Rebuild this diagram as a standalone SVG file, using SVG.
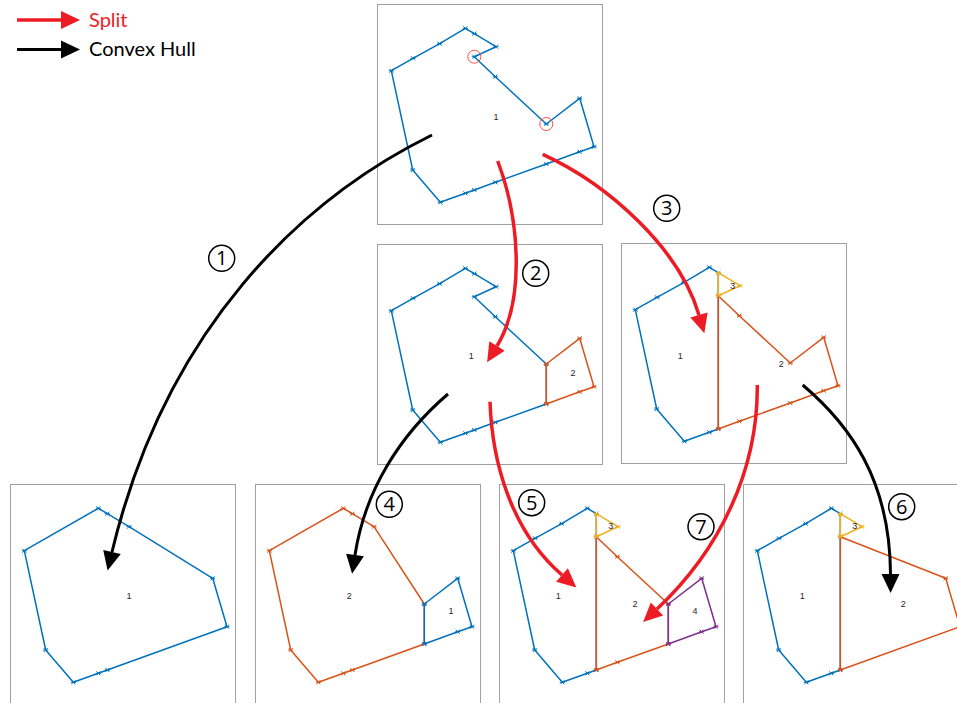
<svg xmlns="http://www.w3.org/2000/svg" width="957" height="703" viewBox="0 0 957 703">
  <style>
    .frame { fill: #ffffff; stroke: #a0a0a0; stroke-width: 1; }
    .poly { fill: none; stroke-width: 1.5; stroke-linejoin: round; }
    .blue { stroke: #0072BD; marker-start: url(#vb); marker-mid: url(#vb); }
    .orange { stroke: #D95319; marker-start: url(#vo); marker-mid: url(#vo); }
    .yellow { stroke: #EDB120; marker-start: url(#vy); marker-mid: url(#vy); }
    .purple { stroke: #7E2F8E; marker-start: url(#vp); marker-mid: url(#vp); }
    .lbl { font-family: "Liberation Sans", Arial, sans-serif; font-size: 9px; fill: #262626; text-anchor: middle; dominant-baseline: central; }
    .split { fill: none; stroke: #ED1C24; stroke-width: 3.5; marker-end: url(#headRed); }
    .hull { fill: none; stroke: #000000; stroke-width: 3; marker-end: url(#headBlack); }
    .num circle { fill: #ffffff; stroke: #000000; stroke-width: 1.5; }
    .num text { font-family: "Open Sans", "DejaVu Sans", sans-serif; font-size: 20px; fill: #000000; text-anchor: middle; }
    .legend { font-family: Lato, "Open Sans", sans-serif; font-size: 20px; }
    .pick { fill: none; stroke: #FF3B3B; stroke-width: 0.9; }
  </style>
  <defs>
    <marker id="vb" markerUnits="userSpaceOnUse" markerWidth="8" markerHeight="8" refX="4" refY="4" orient="0" overflow="visible">
      <path d="M2,2L6,6M2,6L6,2M1.5,4H6.5" stroke="#0072BD" stroke-width="1" fill="none"/>
    </marker>
    <marker id="vo" markerUnits="userSpaceOnUse" markerWidth="8" markerHeight="8" refX="4" refY="4" orient="0" overflow="visible">
      <path d="M2,2L6,6M2,6L6,2M1.5,4H6.5" stroke="#D95319" stroke-width="1" fill="none"/>
    </marker>
    <marker id="vy" markerUnits="userSpaceOnUse" markerWidth="8" markerHeight="8" refX="4" refY="4" orient="0" overflow="visible">
      <path d="M2,2L6,6M2,6L6,2M1.5,4H6.5" stroke="#EDB120" stroke-width="1" fill="none"/>
    </marker>
    <marker id="vp" markerUnits="userSpaceOnUse" markerWidth="8" markerHeight="8" refX="4" refY="4" orient="0" overflow="visible">
      <path d="M2,2L6,6M2,6L6,2M1.5,4H6.5" stroke="#7E2F8E" stroke-width="1" fill="none"/>
    </marker>
    <marker id="headRed" markerUnits="userSpaceOnUse" markerWidth="20" markerHeight="20" refX="0" refY="0" orient="auto" overflow="visible">
      <path d="M0,-9L19,0L0,9Z" fill="#ED1C24"/>
    </marker>
    <marker id="headBlack" markerUnits="userSpaceOnUse" markerWidth="20" markerHeight="20" refX="0" refY="0" orient="auto" overflow="visible">
      <path d="M0,-9L19,0L0,9Z" fill="#000000"/>
    </marker>
  </defs>

  <rect width="957" height="703" fill="#ffffff"/>

  <!-- legend -->
  <g id="legend">
    <path d="M17,20H61" class="split"/>
    <text x="89" y="27" class="legend" fill="#ED1C24">Split</text>
    <path d="M17,49.5H61" class="hull"/>
    <text x="89" y="56" class="legend" fill="#000000">Convex Hull</text>
  </g>

  <!-- original polygon -->
  <g id="panel-top" transform="translate(377,5)">
    <rect class="frame" x="0.5" y="-0.5" width="225" height="220"/>
    <polygon class="poly blue" points="14.3,65.7 36,53.3 62.7,38.7 88.3,23.3 97.3,28.7 119,41.7 97.3,51.7 118.3,71.7 169.3,119 202.7,93.3 217,141.7 202.7,146.7 169.3,159 118.3,177.3 97.3,185 88.3,188.3 63.3,197.3 35.7,165"/>
    <circle class="pick" cx="97.3" cy="51.7" r="6.5"/>
    <circle class="pick" cx="169.3" cy="119" r="6.5"/>
    <text class="lbl" x="119" y="111.7">1</text>
  </g>

  <!-- split at the lower notch -->
  <g id="panel-mid-left" transform="translate(377,245)">
    <rect class="frame" x="0.5" y="-0.5" width="225" height="220"/>
    <polygon class="poly blue" points="14.3,65.7 36,53.3 62.7,38.7 88.3,23.3 97.3,28.7 119,41.7 97.3,51.7 118.3,71.7 169.3,119 169.3,159 118.3,177.3 97.3,185 88.3,188.3 63.3,197.3 35.7,165"/>
    <polygon class="poly orange" points="169.3,119 202.7,93.3 217,141.7 202.7,146.7 169.3,159"/>
    <text class="lbl" x="94.3" y="111.3">1</text>
    <text class="lbl" x="196" y="128">2</text>
  </g>

  <!-- split at the upper notch -->
  <g id="panel-mid-right" transform="translate(621,244)">
    <rect class="frame" x="0.5" y="-0.5" width="225" height="220"/>
    <polygon class="poly blue" points="14.3,65.7 36,53.3 62.7,38.7 88.3,23.3 97.3,28.7 97.3,185 88.3,188.3 63.3,197.3 35.7,165"/>
    <polygon class="poly orange" points="97.3,51.7 118.3,71.7 169.3,119 202.7,93.3 217,141.7 202.7,146.7 169.3,159 118.3,177.3 97.3,185"/>
    <polygon class="poly yellow" points="97.3,28.7 119,41.7 97.3,51.7"/>
    <text class="lbl" x="59.3" y="112.3">1</text>
    <text class="lbl" x="160.3" y="119.7">2</text>
    <text class="lbl" x="111.7" y="41.7">3</text>
  </g>

  <!-- hull of the whole polygon -->
  <g id="panel-bottom-1" transform="translate(10,485)">
    <rect class="frame" x="0.5" y="-0.5" width="225" height="220"/>
    <polygon class="poly blue" points="14.3,65.7 88.3,23.3 97.3,28.7 119,41.7 202.7,93.3 217,141.7 97.3,185 88.3,188.3 63.3,197.3 35.7,165"/>
    <text class="lbl" x="119" y="111.3">1</text>
  </g>

  <!-- hulls after the first split -->
  <g id="panel-bottom-2" transform="translate(255,485)">
    <rect class="frame" x="0.5" y="-0.5" width="225" height="220"/>
    <polygon class="poly orange" points="14.3,65.7 88.3,23.3 97.3,28.7 119,41.7 169.3,119 169.3,159 97.3,185 88.3,188.3 63.3,197.3 35.7,165"/>
    <polygon class="poly blue" points="169.3,119 202.7,93.3 217,141.7 202.7,146.7 169.3,159"/>
    <text class="lbl" x="94.3" y="111.3">2</text>
    <text class="lbl" x="196" y="126.3">1</text>
  </g>

  <!-- both splits combined -->
  <g id="panel-bottom-3" transform="translate(499,485)">
    <rect class="frame" x="0.5" y="-0.5" width="225" height="220"/>
    <polygon class="poly blue" points="14.3,65.7 36,53.3 62.7,38.7 88.3,23.3 97.3,28.7 97.3,185 88.3,188.3 63.3,197.3 35.7,165"/>
    <polygon class="poly orange" points="97.3,51.7 118.3,71.7 169.3,119 169.3,159 118.3,177.3 97.3,185"/>
    <polygon class="poly purple" points="169.3,119 202.7,93.3 217,141.7 202.7,146.7 169.3,159"/>
    <polygon class="poly yellow" points="97.3,28.7 119,41.7 97.3,51.7"/>
    <text class="lbl" x="59.3" y="111.3">1</text>
    <text class="lbl" x="111.7" y="40.7">3</text>
    <text class="lbl" x="136" y="118.7">2</text>
    <text class="lbl" x="196" y="126.3">4</text>
  </g>

  <!-- hulls after the second split -->
  <g id="panel-bottom-4" transform="translate(743,485)">
    <rect class="frame" x="0.5" y="-0.5" width="225" height="220"/>
    <polygon class="poly blue" points="14.3,65.7 36,53.3 62.7,38.7 88.3,23.3 97.3,28.7 97.3,185 88.3,188.3 63.3,197.3 35.7,165"/>
    <polygon class="poly orange" points="97.3,51.7 202.7,93.3 217,141.7 97.3,185"/>
    <polygon class="poly yellow" points="97.3,28.7 119,41.7 97.3,51.7"/>
    <text class="lbl" x="59.3" y="111.3">1</text>
    <text class="lbl" x="111.7" y="41">3</text>
    <text class="lbl" x="160.3" y="118.7">2</text>
  </g>

  <!-- step arrows -->
  <g id="connectors">
    <path class="hull" d="M432,135C300,200 165,330 112,552"/>
    <path class="split" d="M497.7,161C520,220 525,300 497,346"/>
    <path class="split" d="M542.7,154.3C610,185 680,250 699,315"/>
    <path class="hull" d="M448,394C400,435 365,490 355,555"/>
    <path class="split" d="M490,401.7C492,460 510,530 562,575"/>
    <path class="hull" d="M802.7,385C850,425 890,480 890.5,574"/>
    <path class="split" d="M757.3,385C758,470 720,550 657,609"/>
  </g>

  <!-- step numbers -->
  <g id="step-labels" class="num">
    <g id="step-1"><circle cx="221.7" cy="258.3" r="13"/><text x="221.7" y="265.3">1</text></g>
    <g id="step-2"><circle cx="535.7" cy="273.3" r="13"/><text x="535.7" y="280.3">2</text></g>
    <g id="step-3"><circle cx="666.7" cy="208.3" r="13"/><text x="666.7" y="215.3">3</text></g>
    <g id="step-4"><circle cx="389.3" cy="504.3" r="13"/><text x="389.3" y="511.3">4</text></g>
    <g id="step-5"><circle cx="531.7" cy="502.7" r="13"/><text x="531.7" y="509.7">5</text></g>
    <g id="step-6"><circle cx="901.7" cy="506.7" r="13"/><text x="901.7" y="513.7">6</text></g>
    <g id="step-7"><circle cx="701" cy="526.7" r="13"/><text x="701" y="533.7">7</text></g>
  </g>
</svg>
